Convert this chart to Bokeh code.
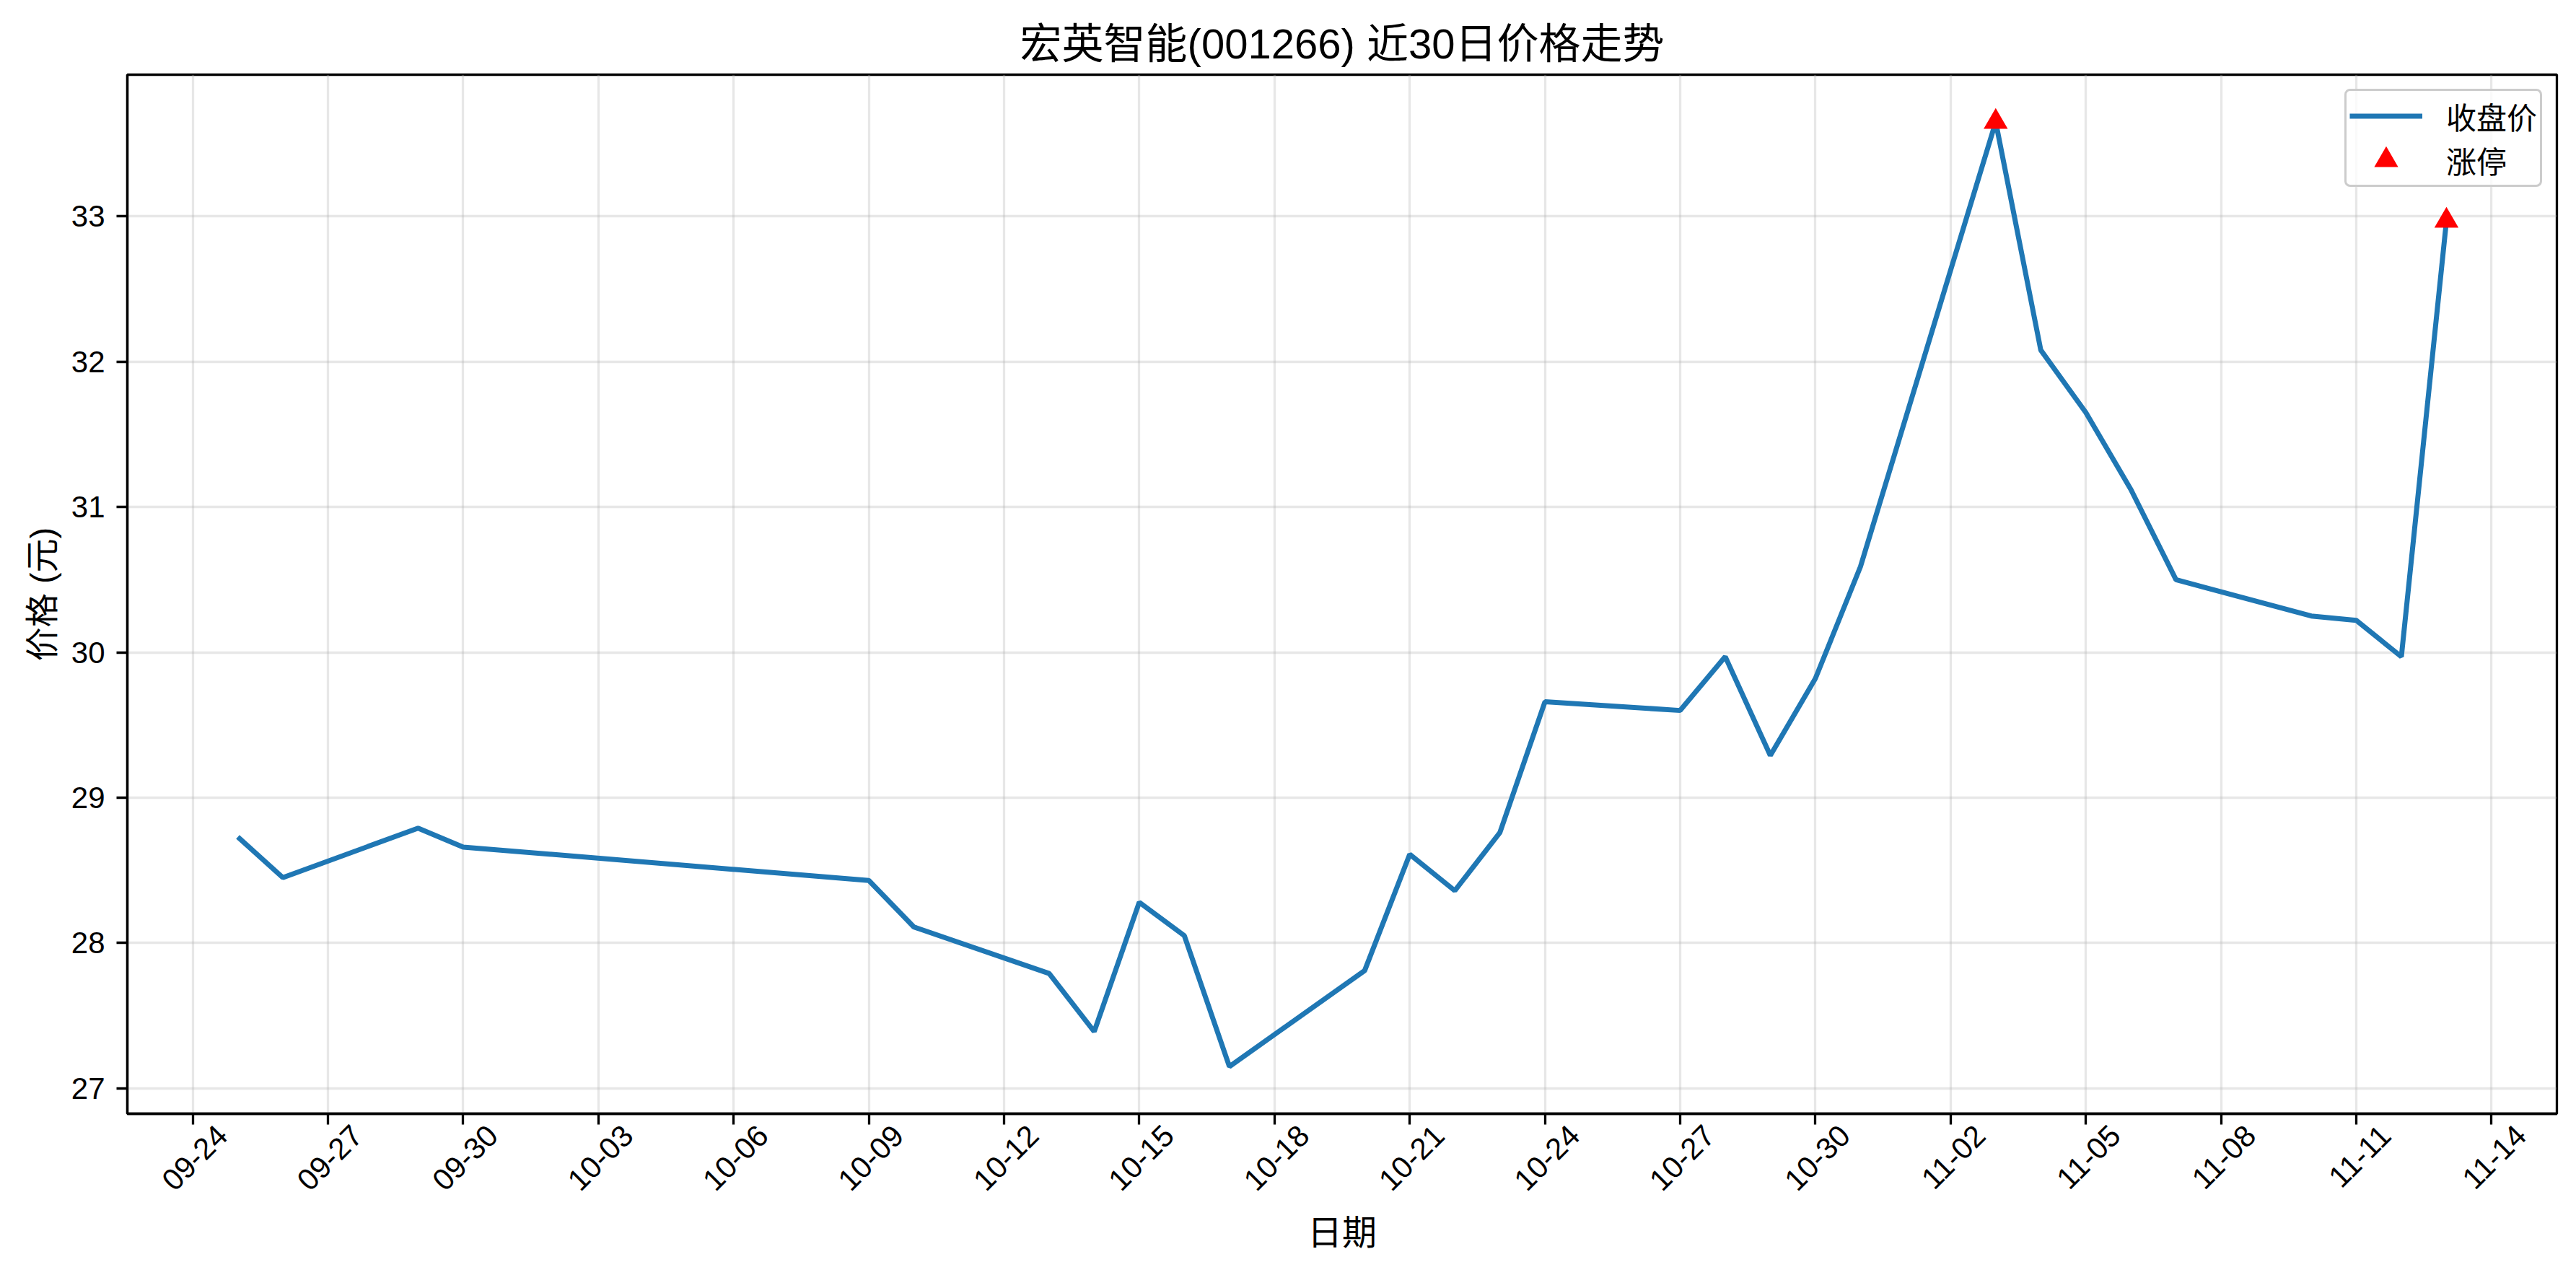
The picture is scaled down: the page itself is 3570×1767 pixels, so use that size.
import pandas as pd
from math import pi
from bokeh.plotting import figure
from bokeh.models import (FixedTicker, DatetimeAxis, DatetimeTickFormatter,
                          Range1d, ColumnDataSource)
from bokeh.embed import file_html
from bokeh.resources import INLINE

# ---------------- data ----------------
title_text = "宏英智能(001266) 近30日价格走势"
x_label = "日期"
y_label = "价格 (元)"
series_close = "收盘价"
series_limit = "涨停"

trade_dates = ["2025-09-25", "2025-09-26", "2025-09-29", "2025-09-30", "2025-10-09",
               "2025-10-10", "2025-10-13", "2025-10-14", "2025-10-15", "2025-10-16",
               "2025-10-17", "2025-10-20", "2025-10-21", "2025-10-22", "2025-10-23",
               "2025-10-24", "2025-10-27", "2025-10-28", "2025-10-29", "2025-10-30",
               "2025-10-31", "2025-11-03", "2025-11-04", "2025-11-05", "2025-11-06",
               "2025-11-07", "2025-11-10", "2025-11-11", "2025-11-12", "2025-11-13"]
close_prices = [28.73, 28.45, 28.79, 28.66, 28.43,
                28.11, 27.79, 27.39, 28.28, 28.05,
                27.15, 27.81, 28.61, 28.36, 28.76,
                29.66, 29.60, 29.97, 29.29, 29.82,
                30.59, 33.65, 32.08, 31.65, 31.12,
                30.50, 30.25, 30.22, 29.97, 32.97]
limit_up_dates = ["2025-11-03", "2025-11-13"]

x_tick_labels = ["09-24", "09-27", "09-30", "10-03", "10-06", "10-09", "10-12",
                 "10-15", "10-18", "10-21", "10-24", "10-27", "10-30", "11-02",
                 "11-05", "11-08", "11-11", "11-14"]
tick_year = "2025"
y_ticks = [27, 28, 29, 30, 31, 32, 33]

# ---------------- styling constants ----------------
FONT = "Liberation Sans, Noto Sans CJK SC"
BLUE = "#1f77b4"
LW = 3.3
DAY_MS = 86400000
LABEL_SHIFT_DAYS = 0.65   # visual centring of rotated tick labels


def to_ms(s):
    return int(pd.Timestamp(s).value // 10**6)


x_ms = [to_ms(d) for d in trade_dates]
limit_ms = [to_ms(d) for d in limit_up_dates]
limit_vals = [close_prices[x_ms.index(m)] for m in limit_ms]

tick_ms = [to_ms(f"{tick_year}-{lab}") for lab in x_tick_labels]

# matplotlib-like 5% margins
xspan = max(x_ms) - min(x_ms)
x0, x1 = min(x_ms) - 0.05 * xspan, max(x_ms) + 0.05 * xspan
ylo, yhi = min(close_prices), max(limit_vals + close_prices)
yspan = yhi - ylo
y0, y1 = ylo - 0.05 * yspan, yhi + 0.05 * yspan

p = figure(width=3570, height=1767, x_axis_type="datetime",
           x_range=Range1d(x0, x1), y_range=Range1d(y0, y1),
           output_backend="svg", toolbar_location=None,
           min_border_left=176, min_border_right=27,
           min_border_top=103, min_border_bottom=224)

p.background_fill_color = "white"
p.border_fill_color = "white"
p.outline_line_color = "black"
p.outline_line_width = LW

# title
p.title.text = title_text
p.title.align = "center"
p.title.text_font = FONT
p.title.text_font_size = "58px"
p.title.text_font_style = "normal"
p.title.text_color = "black"
p.title.standoff = 22

# grid
for g in (p.xgrid, p.ygrid):
    g.grid_line_color = "#b0b0b0"
    g.grid_line_alpha = 0.3
    g.grid_line_width = LW

# x axis A : tick marks only
ax = p.xaxis[0]
ax.ticker = FixedTicker(ticks=tick_ms)
ax.major_label_text_color = None
ax.major_label_text_font_size = "1px"
ax.major_label_standoff = 0
ax.major_tick_out = 15
ax.major_tick_in = 0
ax.major_tick_line_width = LW
ax.minor_tick_line_color = None
ax.axis_line_width = LW
ax.axis_line_color = "black"

# x axis B : rotated labels
shift = int(LABEL_SHIFT_DAYS * DAY_MS)
shifted = [t + shift for t in tick_ms]
fmt = "%m-%d"
axb = DatetimeAxis(
    ticker=FixedTicker(ticks=shifted),
    formatter=DatetimeTickFormatter(microseconds=fmt, milliseconds=fmt, seconds=fmt,
                                    minsec=fmt, minutes=fmt, hourmin=fmt, hours=fmt,
                                    days=fmt, months=fmt, years=fmt),
    major_label_overrides={t: lab for t, lab in zip(shifted, x_tick_labels)},
)
axb.major_label_orientation = pi / 4
axb.axis_line_color = None
axb.major_tick_line_color = None
axb.minor_tick_line_color = None
axb.major_tick_out = 0
axb.major_tick_in = 0
axb.major_label_standoff = 8
axb.major_label_text_font = FONT
axb.major_label_text_font_size = "42px"
axb.major_label_text_color = "black"
axb.axis_label = x_label
axb.axis_label_text_font = FONT
axb.axis_label_text_font_size = "48px"
axb.axis_label_text_font_style = "normal"
axb.axis_label_text_color = "black"
axb.axis_label_standoff = 16
p.add_layout(axb, "below")

# y axis
ya = p.yaxis[0]
ya.ticker = FixedTicker(ticks=y_ticks)
ya.major_label_text_font = FONT
ya.major_label_text_font_size = "42px"
ya.major_label_text_color = "black"
ya.major_label_standoff = 16
ya.major_tick_out = 15
ya.major_tick_in = 0
ya.major_tick_line_width = LW
ya.minor_tick_line_color = None
ya.axis_line_width = LW
ya.axis_line_color = "black"
ya.axis_label = y_label
ya.axis_label_text_font = FONT
ya.axis_label_text_font_size = "47px"
ya.axis_label_text_font_style = "normal"
ya.axis_label_text_color = "black"
ya.axis_label_standoff = 11

# data
src = ColumnDataSource(dict(x=x_ms, y=close_prices))
p.line("x", "y", source=src, line_color=BLUE, line_width=7, legend_label=series_close)
lsrc = ColumnDataSource(dict(x=limit_ms, y=limit_vals))
p.scatter("x", "y", source=lsrc, marker="triangle", size=23, fill_color="red",
          line_color="red", line_width=6, line_join="miter", legend_label=series_limit)

# legend
lg = p.legend[0]
lg.location = "top_right"
lg.margin = 20
lg.padding = 4
lg.spacing = 0
lg.glyph_width = 101
lg.glyph_height = 57
lg.label_standoff = 33
lg.label_text_font = FONT
lg.label_text_font_size = "42px"
lg.label_text_color = "black"
lg.border_line_color = "#cccccc"
lg.border_line_width = 3
lg.border_line_alpha = 1.0
lg.background_fill_alpha = 0.8
if "border_radius" in lg.properties():
    lg.border_radius = 8

open("out.html", "w").write(file_html(p, INLINE))
